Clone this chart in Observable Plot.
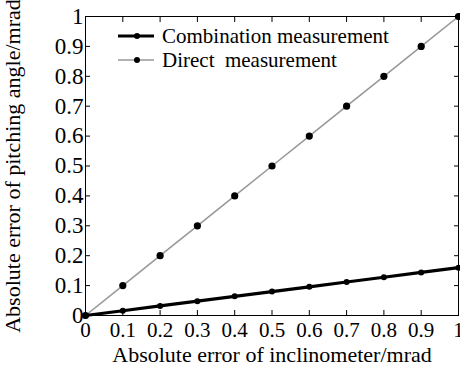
<!DOCTYPE html>
<html>
<head>
<meta charset="utf-8">
<script src="https://cdn.jsdelivr.net/npm/d3@7"></script>
<script src="https://cdn.jsdelivr.net/npm/@observablehq/plot@0.6"></script>
<style>
  html, body { margin: 0; padding: 0; background: #fff; }
  #wrap { position: relative; width: 460px; height: 370px; font-family: "Liberation Serif", "Times New Roman", serif; }
  #legend { position: absolute; left: 118px; top: 24px; font-size: 21px; line-height: 24px; color: #000; }
  #legend .row { display: flex; align-items: center; white-space: pre; }
  #legend svg { margin-right: 8px; }
</style>
</head>
<body>
<div id="wrap"></div>
<script>
const xValues = [0, 0.1, 0.2, 0.3, 0.4, 0.5, 0.6, 0.7, 0.8, 0.9, 1];
const combination = [0, 0.016, 0.032, 0.048, 0.064, 0.08, 0.096, 0.112, 0.128, 0.144, 0.16];
const direct = [0, 0.1, 0.2, 0.3, 0.4, 0.5, 0.6, 0.7, 0.8, 0.9, 1];
const tickValues = [0, 0.1, 0.2, 0.3, 0.4, 0.5, 0.6, 0.7, 0.8, 0.9, 1];
const seriesNames = ["Combination measurement", "Direct  measurement"];
const xLabel = "Absolute error of inclinometer/mrad";
const yLabel = "Absolute error of pitching angle/mrad";

const comboData = xValues.map((x, i) => ({x, y: combination[i]}));
const directData = xValues.map((x, i) => ({x, y: direct[i]}));
const fmt = d => String(+d.toFixed(1));

const chart = Plot.plot({
  width: 460,
  height: 370,
  marginLeft: 85,
  marginRight: 2,
  marginTop: 16,
  marginBottom: 55,
  style: {fontFamily: "'Liberation Serif', 'Times New Roman', serif", color: "#000", background: "#fff", overflow: "visible"},
  x: {domain: [0, 1]},
  y: {domain: [0, 1]},
  marks: [
    Plot.axisX({ticks: tickValues, tickFormat: fmt, tickSize: -5, tickPadding: 12, fontSize: 21, label: xLabel, labelArrow: "none", labelAnchor: "center", labelOffset: 46}),
    Plot.axisX({anchor: "top", ticks: tickValues, tickFormat: () => "", tickSize: -5, label: null}),
    Plot.axisY({ticks: tickValues, tickFormat: fmt, tickSize: -5, tickPadding: 7, fontSize: 23, label: yLabel, labelArrow: "none", labelAnchor: "center", labelOffset: 81}),
    Plot.axisY({anchor: "right", ticks: tickValues, tickFormat: () => "", tickSize: -5, label: null}),
    Plot.frame({stroke: "#000", strokeWidth: 1}),
    Plot.line(directData, {x: "x", y: "y", stroke: "#999", strokeWidth: 1.6}),
    Plot.dot(directData, {x: "x", y: "y", r: 3.6, fill: "#000", stroke: "none"}),
    Plot.line(comboData, {x: "x", y: "y", stroke: "#000", strokeWidth: 3.2}),
    Plot.dot(comboData, {x: "x", y: "y", r: 3, fill: "#000", stroke: "none"})
  ]
});

d3.select(chart).selectAll("[aria-label='x-axis label'] text").style("font-size", "22px");
d3.select(chart).selectAll("[aria-label='y-axis label'] text").style("font-size", "22px");

const wrap = document.getElementById("wrap");
wrap.appendChild(chart);

const legend = document.createElement("div");
legend.id = "legend";
const swatches = [{stroke: "#000", width: 3.2, r: 3}, {stroke: "#999", width: 1.6, r: 3}];
seriesNames.forEach((name, i) => {
  const row = document.createElement("div");
  row.className = "row";
  const s = swatches[i];
  row.innerHTML = `<svg width="36" height="10"><line x1="0" x2="36" y1="5" y2="5" stroke="${s.stroke}" stroke-width="${s.width}"/><circle cx="19" cy="5" r="${s.r}" fill="#000"/></svg><span>${name}</span>`;
  legend.appendChild(row);
});
wrap.appendChild(legend);
</script>
</body>
</html>
